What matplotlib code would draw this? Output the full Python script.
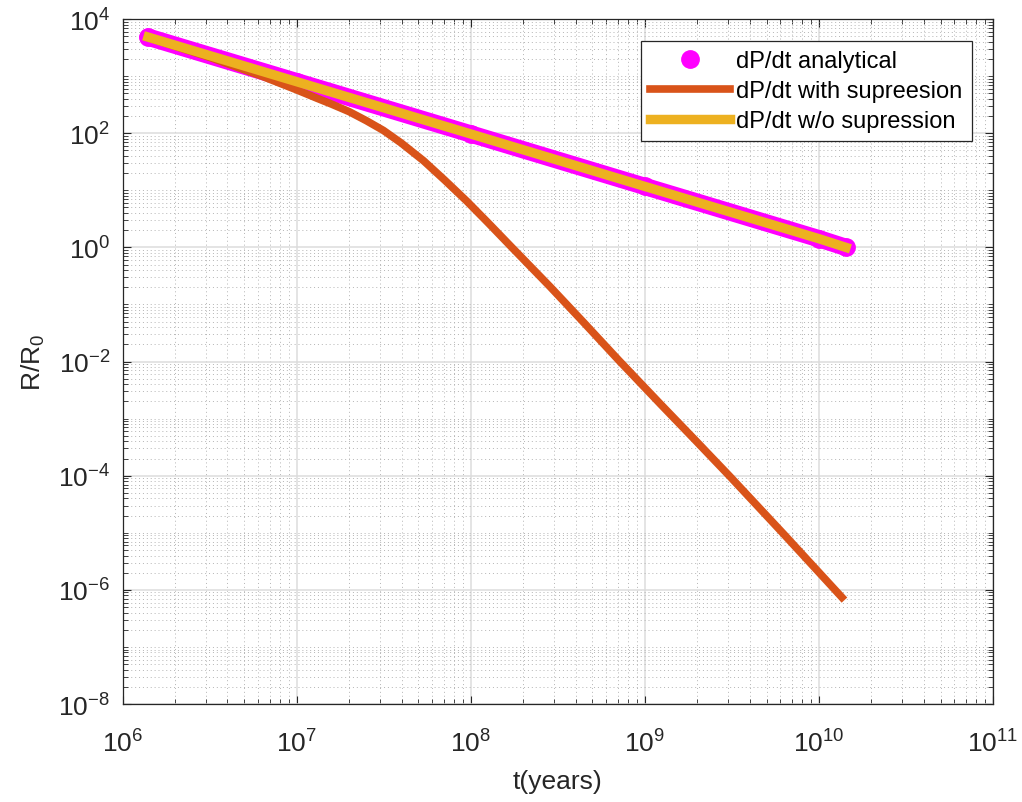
import matplotlib
matplotlib.use('Agg')
import matplotlib.pyplot as plt
import matplotlib.ticker as mticker
import numpy as np

plt.rcParams['font.family'] = ['Liberation Sans', 'DejaVu Sans']
plt.rcParams['mathtext.fontset'] = 'custom'
plt.rcParams['mathtext.rm'] = 'Liberation Sans'
plt.rcParams['mathtext.it'] = 'Liberation Sans'

# values (t in years, R/R0)
t_analytic = [1.40e6, 1e7, 1e8, 1e9, 1e10, 1.43e10]
r_analytic = [4830, 800, 97, 11.7, 1.42, 1.0]

t_nosupp = [1.40e6, 1e7, 1e8, 1e9, 1e10, 1.43e10]
r_nosupp = [4830, 800, 97, 11.7, 1.42, 1.0]

t_supp = [1.396e6, 3.162e6, 6.31e6, 1.0e7, 1.303e7, 1.585e7, 1.995e7,
          2.512e7, 3.148e7, 3.981e7, 5.346e7, 7.079e7, 9.484e7, 1.259e8,
          1.722e8, 2.858e8, 4.467e8, 7.047e8, 1.225e9, 1.995e9, 3.097e9,
          6.31e9, 1.213e10, 1.355e10]
r_supp = [4732, 2138, 1000, 575, 412, 324, 240,
          166, 112, 67.6, 33.1, 15.1, 6.46, 2.69,
          1.0, 0.204, 0.0479, 0.0107, 1.82e-3, 3.89e-4, 9.55e-5,
          9.33e-6, 1.07e-6, 7.41e-7]

fig = plt.figure(figsize=(10.22, 8.03), dpi=100)
ax = fig.add_axes([0.120, 0.122, 0.8516, 0.853])

# analytical: thick band of filled circles
ax.plot(t_analytic, r_analytic, color='#FF00FF', lw=12.5,
        solid_capstyle='round', zorder=2)
ax.plot(t_analytic, r_analytic, 'o', color='#FF00FF', ms=12.5,
        label='dP/dt analytical', zorder=2)
ax.plot(t_supp, r_supp, color='#D95319', lw=5.5, zorder=3,
        solid_joinstyle='round', label='dP/dt with supreesion')
ax.plot(t_nosupp, r_nosupp, color='#EDB120', lw=6.8, zorder=4,
        label='dP/dt w/o supression')

ax.set_xscale('log')
ax.set_yscale('log')
ax.set_xlim(1e6, 1e11)
ax.set_ylim(1e-8, 1e4)

ax.yaxis.set_major_locator(mticker.FixedLocator([10.0**k for k in range(-8, 5, 2)]))
ax.yaxis.set_minor_locator(mticker.LogLocator(base=10, subs=np.arange(1, 10), numticks=50))
ax.yaxis.set_major_formatter(mticker.LogFormatterSciNotation())
ax.yaxis.set_minor_formatter(mticker.NullFormatter())
ax.xaxis.set_minor_locator(mticker.LogLocator(base=10, subs=np.arange(2, 10), numticks=50))
ax.xaxis.set_minor_formatter(mticker.NullFormatter())

ax.grid(which='major', color='#dcdcdc', lw=1.1, ls='-')
ax.grid(which='minor', color='#b4b4b4', lw=0.7, ls=(0, (1, 3)))
ax.set_axisbelow(True)

ax.tick_params(which='both', direction='in', top=True, right=True,
               labelsize=19, color='#262626', labelcolor='#262626')
ax.tick_params(which='major', length=6)
ax.tick_params(which='minor', length=3.5)
ax.tick_params(axis='x', which='major', pad=18)
ax.tick_params(axis='y', which='major', pad=9)
for s in ax.spines.values():
    s.set_color('#262626')
    s.set_linewidth(0.9)

ax.set_xlabel('t(years)', fontsize=19, color='#262626', labelpad=9)
ax.set_ylabel('R/R$_0$', fontsize=19, color='#262626', labelpad=8)

leg = ax.legend(loc='upper right', bbox_to_anchor=(0.976, 0.968), fontsize=17,
                fancybox=False, framealpha=1, edgecolor='#262626',
                borderaxespad=0, handlelength=3.4, handletextpad=0.25,
                borderpad=0.4, labelspacing=0.33)
leg.get_frame().set_linewidth(0.9)

fig.savefig('out.png', dpi=100)
